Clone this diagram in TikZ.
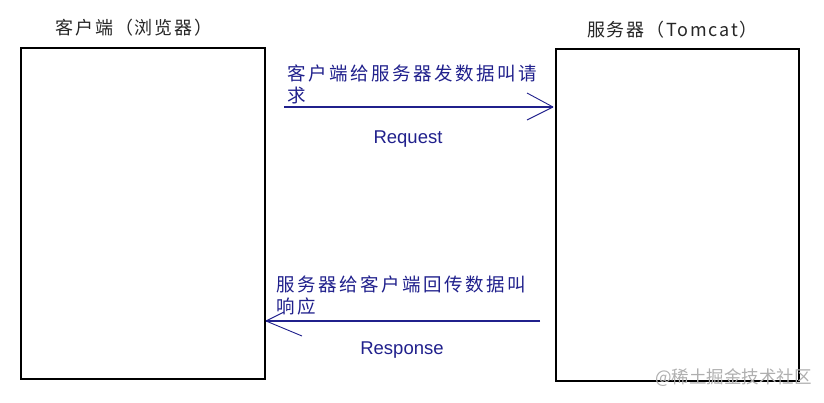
\documentclass[tikz,border=0pt]{standalone}
\usepackage{fontspec}
\setmainfont{Liberation Sans}
\newfontfamily\cjkT[LetterSpace=10]{Noto Sans CJK SC}
\newfontfamily\cjkB[LetterSpace=13.5]{Noto Sans CJK SC}
\newfontfamily\cjkW{Noto Sans CJK SC}
\usetikzlibrary{arrows.meta}
\definecolor{navy}{RGB}{32,32,140}
\definecolor{wmgray}{RGB}{175,175,175}
\tikzset{
  panel/.style={draw=black, inner sep=0pt, outer sep=0pt, anchor=north west},
  title/.style={font=\cjkT\fontsize{18}{20}\selectfont, text=black!85, inner sep=0pt},
  cnlabel/.style={font=\cjkB\fontsize{18.5}{22}\selectfont, text=navy, align=left, inner sep=0pt, anchor=base west},
  enlabel/.style={font=\fontsize{18.5}{22}\selectfont, text=navy, inner sep=0pt, anchor=base},
  msgline/.style={draw=navy, line width=1.4pt},
  barb/.style={draw=navy, line width=0.9pt}
}
\begin{document}
\begin{tikzpicture}[x=1pt,y=-1pt]
\useasboundingbox (0,0) rectangle (824,403);
% titles
\node[title] (tl) at (134,28) {客户端（浏览器）};
\node[title] (tr) at (672.5,29.5) {服务器（Tomcat）};
% panels
\node[panel, line width=2pt, minimum width=244pt, minimum height=331pt] (client) at (21,48) {};
\node[panel, line width=1.5pt, minimum width=243pt, minimum height=332pt] (server) at (556,49) {};
% request
\coordinate (reqS) at (284,107);
\coordinate (reqE) at (553,107);
\draw[msgline] (reqS) -- (reqE);
\draw[barb] (reqE) -- ++(-26,-14);
\draw[barb] (reqE) -- ++(-26,13);
\node[cnlabel] (reqcn) at (287,103) {客户端给服务器发数据叫请\\求};
\node[enlabel] (reqen) at (408,144) {Request};
% response
\coordinate (rspS) at (540,321);
\coordinate (rspE) at (266,321);
\draw[msgline] (rspS) -- (rspE);
\draw[barb] (rspE) -- ++(18,-9);
\draw[barb] (rspE) -- ++(36,15);
\node[cnlabel, font=\cjkB\fontsize{18.5}{22.5}\selectfont] (rspcn) at (276,313.5) {服务器给客户端回传数据叫\\响应};
\node[enlabel] (rspen) at (402,354) {Response};
% watermark
\node[font=\cjkW\fontsize{17.5}{20}\selectfont, text=wmgray, anchor=base west, inner sep=0pt] (wm) at (655,383.5) {@稀土掘金技术社区};
\end{tikzpicture}
\end{document}
